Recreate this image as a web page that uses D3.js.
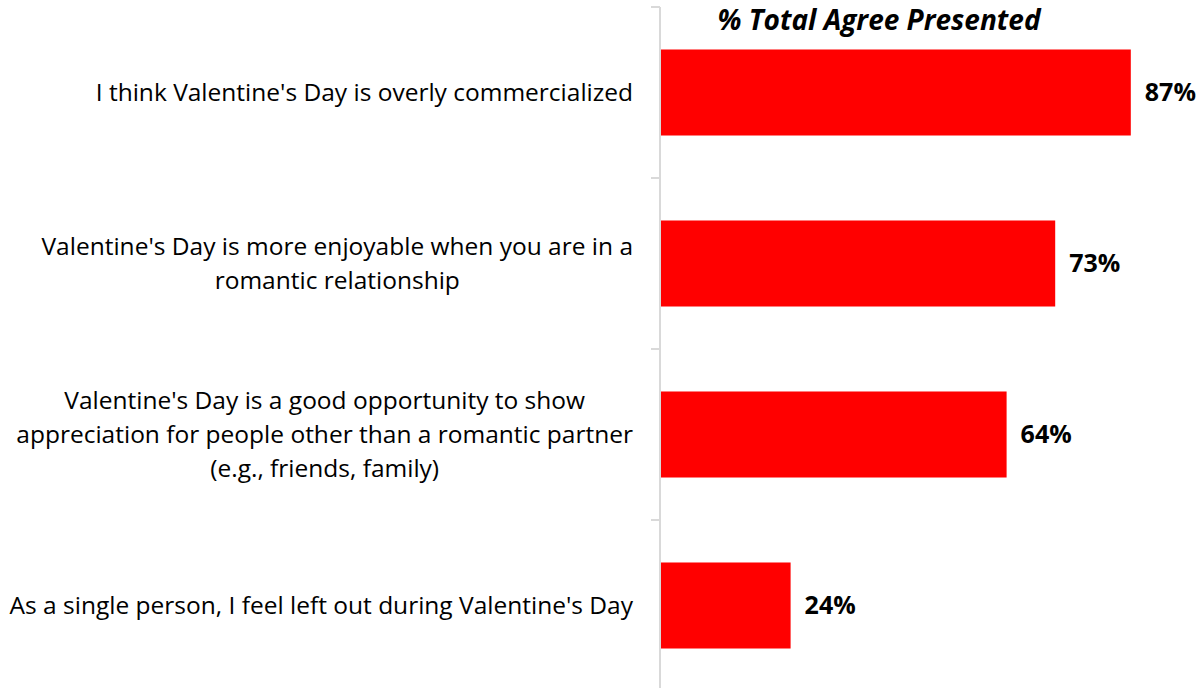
<!DOCTYPE html>
<html>
<head>
<meta charset="utf-8">
<script src="https://cdn.jsdelivr.net/npm/d3@7"></script>
<style>
  html, body { margin: 0; padding: 0; background: #fff; }
  svg { display: block; font-family: "Open Sans", Lato, sans-serif; }
</style>
</head>
<body>
<svg id="chart" width="1203" height="688"></svg>
<script>
// Survey statements (each inner array is one wrapped label) and their agreement share
const statements = [
  ["I think Valentine's Day is overly commercialized"],
  ["Valentine's Day is more enjoyable when you are in a", "romantic relationship"],
  ["Valentine's Day is a good opportunity to show", "appreciation for people other than a romantic partner", "(e.g., friends, family)"],
  ["As a single person, I feel left out during Valentine's Day"]
];
const agreePct = [87, 73, 64, 24];
const chartTitle = "% Total Agree Presented";

const svg = d3.select("#chart");
// plot area runs slightly past the bottom edge of the canvas
const margin = { top: 7, left: 660 };
const height = 684;

const g = svg.append("g").attr("transform", `translate(${margin.left},${margin.top})`);

const x = d3.scaleLinear().domain([0, 100]).range([0, 540]);
const y = d3.scaleBand().domain(d3.range(agreePct.length)).range([0, height])
  .paddingInner(0.497).paddingOuter(0.2485);

// Category axis: light grey spine with ticks between bands
g.append("line")
  .attr("x1", 0).attr("x2", 0).attr("y1", 0).attr("y2", height)
  .attr("stroke", "#d9d9d9").attr("stroke-width", 2);
const boundaries = d3.range(agreePct.length + 1).map(i => i * y.step());
g.selectAll("line.tick").data(boundaries).join("line")
  .attr("class", "tick")
  .attr("x1", -9).attr("x2", 0)
  .attr("y1", d => d).attr("y2", d => d)
  .attr("stroke", "#d9d9d9").attr("stroke-width", 2);

// Bars
g.selectAll("rect.bar").data(agreePct).join("rect")
  .attr("class", "bar")
  .attr("x", 1)
  .attr("y", (d, i) => y(i))
  .attr("width", d => x(d))
  .attr("height", y.bandwidth())
  .attr("fill", "#ff0000");

// Value labels
g.selectAll("text.val").data(agreePct).join("text")
  .attr("class", "val")
  .attr("x", d => x(d) + 15)
  .attr("y", (d, i) => y(i) + y.bandwidth() / 2)
  .attr("dy", "0.35em")
  .attr("font-size", 25)
  .attr("font-weight", "bold")
  .attr("fill", "#000")
  .text(d => d + "%");

// Statement labels: each block ends at the axis gap, lines centred within the block
const lineH = 33.8;
const labelRight = -27;
g.selectAll("text.cat").data(statements).join("text")
  .attr("class", "cat")
  .attr("text-anchor", "middle")
  .attr("font-size", 24.5)
  .attr("fill", "#000")
  .each(function (lines, i) {
    const sel = d3.select(this);
    const cy = y(i) + y.bandwidth() / 2;
    const first = cy - (lines.length - 1) * lineH / 2;
    const spans = sel.selectAll("tspan").data(lines).join("tspan")
      .attr("y", (d, k) => first + k * lineH)
      .attr("dy", "0.35em")
      .text(d => d);
    let blockW = 0;
    spans.each(function () { blockW = Math.max(blockW, this.getComputedTextLength()); });
    spans.attr("x", labelRight - blockW / 2);
  });

// Chart title
svg.append("text")
  .attr("x", 879).attr("y", 30)
  .attr("text-anchor", "middle")
  .attr("font-size", 28)
  .attr("font-weight", "bold")
  .attr("font-style", "italic")
  .attr("fill", "#000")
  .text(chartTitle);
</script>
</body>
</html>
